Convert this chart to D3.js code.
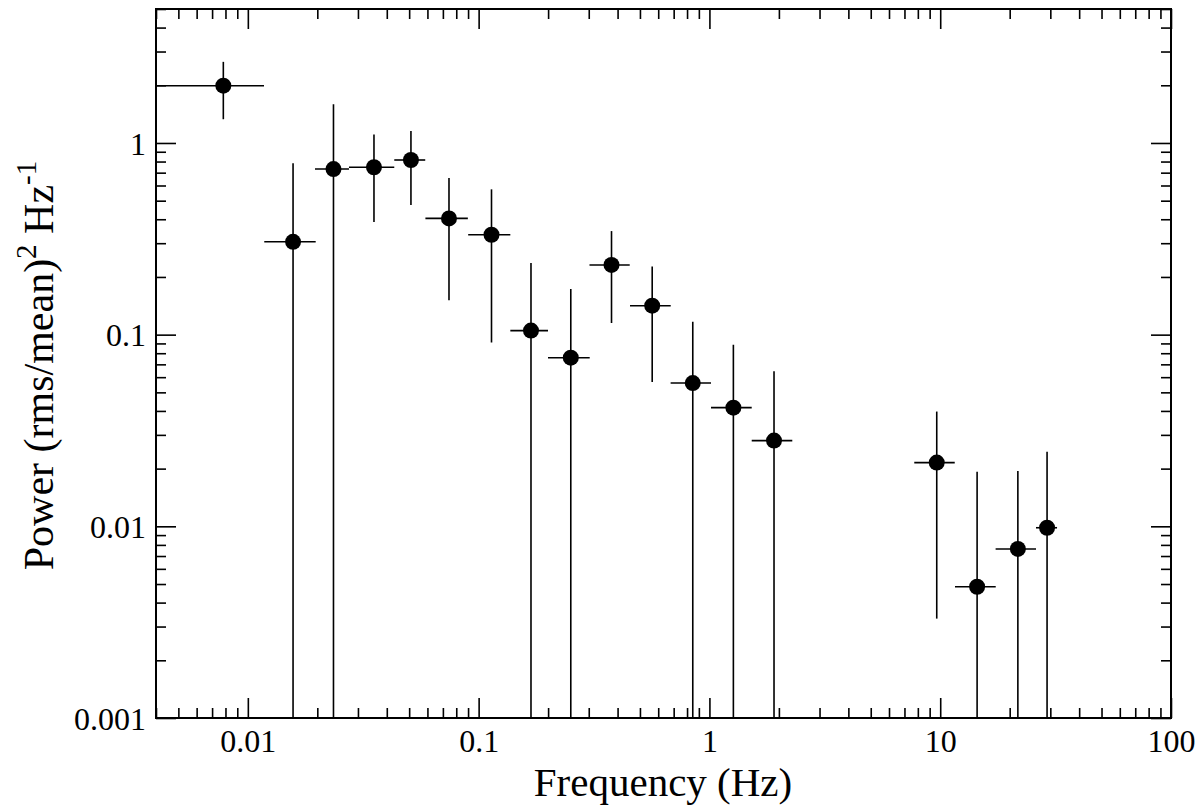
<!DOCTYPE html>
<html>
<head>
<meta charset="utf-8">
<script src="https://cdn.jsdelivr.net/npm/d3@7"></script>
<style>
  html, body { margin: 0; padding: 0; background: #fff; }
  svg { display: block; }
</style>
</head>
<body>
<svg id="chart" width="1200" height="807"></svg>
<script>
// ---- data ----
const freq    = [0.00783, 0.0157, 0.0235, 0.0352, 0.0509, 0.0744, 0.1137, 0.1686, 0.2508, 0.3765, 0.565, 0.847, 1.270, 1.905, 9.66, 14.45, 21.7, 29.04];
const freqLo  = [0.0039, 0.01178, 0.01954, 0.02743, 0.0431, 0.0588, 0.0901, 0.1372, 0.1998, 0.3022, 0.4528, 0.679, 1.016, 1.525, 7.72, 11.59, 17.38, 26.0];
const freqHi  = [0.01175, 0.01968, 0.02743, 0.0431, 0.0587, 0.0898, 0.1372, 0.1998, 0.3029, 0.4515, 0.6797, 1.016, 1.525, 2.286, 11.56, 17.40, 26.01, 32.08];
const power    = [1.99, 0.305, 0.731, 0.747, 0.815, 0.404, 0.332, 0.105, 0.0758, 0.231, 0.1416, 0.0559, 0.0416, 0.0280, 0.0215, 0.00484, 0.00762, 0.00983];
const powerErr = [0.66, 0.478, 0.86, 0.36, 0.34, 0.253, 0.241, 0.1315, 0.097, 0.116, 0.085, 0.061, 0.047, 0.0364, 0.0182, 0.0144, 0.0118, 0.0147];

const xMajor = [0.01, 0.1, 1, 10, 100];
const xMajorLabels = ["0.01", "0.1", "1", "10", "100"];
const yMajor = [0.001, 0.01, 0.1, 1];
const yMajorLabels = ["0.001", "0.01", "0.1", "1"];
const xDomain = [0.004, 100];
const yDomain = [0.001, 5];

// ---- layout ----
const L = 156, R = 1171, T = 9, B = 718;
const svg = d3.select("#chart");
const x = d3.scaleLog().domain(xDomain).range([L, R]);
const y = d3.scaleLog().domain(yDomain).range([B, T]);

function minors(dom) {
  const out = [];
  for (let e = -4; e <= 3; e++) {
    for (let m = 2; m <= 9; m++) {
      const v = m * Math.pow(10, e);
      if (v >= dom[0] * 0.999 && v <= dom[1] * 1.001) out.push(v);
    }
  }
  return out;
}
const xMinor = minors(xDomain);
const yMinor = minors(yDomain);

const font = "'Liberation Serif', 'Times New Roman', serif";

function styleAxis(g) {
  g.select(".domain").remove();
  g.selectAll(".tick line").attr("stroke", "#000").attr("stroke-width", 1.6);
}

// bottom
svg.append("g").attr("transform", `translate(0,${B})`)
  .call(d3.axisBottom(x).tickValues(xMinor).tickSize(-10).tickFormat(""))
  .call(styleAxis);
const gb = svg.append("g").attr("transform", `translate(0,${B})`)
  .call(d3.axisBottom(x).tickValues(xMajor).tickSize(-20)
    .tickFormat((d, i) => xMajorLabels[i]).tickPadding(0))
  .call(styleAxis);
gb.selectAll(".tick text").attr("dy", null).attr("y", 34)
  .attr("font-family", font).attr("font-size", 32).attr("fill", "#000");

// top
svg.append("g").attr("transform", `translate(0,${T})`)
  .call(d3.axisTop(x).tickValues(xMinor).tickSize(-10).tickFormat(""))
  .call(styleAxis);
svg.append("g").attr("transform", `translate(0,${T})`)
  .call(d3.axisTop(x).tickValues(xMajor).tickSize(-20).tickFormat(""))
  .call(styleAxis);

// left
svg.append("g").attr("transform", `translate(${L},0)`)
  .call(d3.axisLeft(y).tickValues(yMinor).tickSize(-10).tickFormat(""))
  .call(styleAxis);
const gl = svg.append("g").attr("transform", `translate(${L},0)`)
  .call(d3.axisLeft(y).tickValues(yMajor).tickSize(-20)
    .tickFormat((d, i) => yMajorLabels[i]).tickPadding(0))
  .call(styleAxis);
gl.selectAll(".tick text").attr("x", -10).attr("dy", "0.35em")
  .attr("font-family", font).attr("font-size", 32).attr("fill", "#000");

// right
svg.append("g").attr("transform", `translate(${R},0)`)
  .call(d3.axisRight(y).tickValues(yMinor).tickSize(-10).tickFormat(""))
  .call(styleAxis);
svg.append("g").attr("transform", `translate(${R},0)`)
  .call(d3.axisRight(y).tickValues(yMajor).tickSize(-20).tickFormat(""))
  .call(styleAxis);

// frame
svg.append("rect").attr("x", L).attr("y", T).attr("width", R - L).attr("height", B - T)
  .attr("fill", "none").attr("stroke", "#000").attr("stroke-width", 2);

// clip
svg.append("defs").append("clipPath").attr("id", "clip")
  .append("rect").attr("x", L).attr("y", T).attr("width", R - L).attr("height", B - T);

const data = freq.map((f, i) => ({ f, lo: freqLo[i], hi: freqHi[i], p: power[i], e: powerErr[i] }));
const plot = svg.append("g").attr("clip-path", "url(#clip)");

// horizontal error bars
plot.selectAll("line.xerr").data(data).enter().append("line")
  .attr("x1", d => x(d.lo)).attr("x2", d => x(d.hi))
  .attr("y1", d => y(d.p)).attr("y2", d => y(d.p))
  .attr("stroke", "#000").attr("stroke-width", 1.6);

// vertical error bars
plot.selectAll("line.yerr").data(data).enter().append("line")
  .attr("x1", d => x(d.f)).attr("x2", d => x(d.f))
  .attr("y1", d => y(d.p + d.e))
  .attr("y2", d => (d.p - d.e) > 0 ? y(d.p - d.e) : B + 5)
  .attr("stroke", "#000").attr("stroke-width", 1.6);

// markers
plot.selectAll("circle").data(data).enter().append("circle")
  .attr("cx", d => x(d.f)).attr("cy", d => y(d.p)).attr("r", 8).attr("fill", "#000");

// axis titles
svg.append("text").attr("x", 663).attr("y", 796)
  .attr("text-anchor", "middle").attr("font-family", font).attr("font-size", 41)
  .attr("fill", "#000").text("Frequency (Hz)");

const yt = svg.append("text")
  .attr("transform", `translate(53,${(T + B) / 2 + 2}) rotate(-90)`)
  .attr("text-anchor", "middle").attr("font-family", font).attr("font-size", 42)
  .attr("fill", "#000");
yt.append("tspan").text("Power (rms/mean)");
yt.append("tspan").attr("font-size", 29).attr("dy", -17).text("2");
yt.append("tspan").attr("dy", 17).text(" Hz");
yt.append("tspan").attr("font-size", 29).attr("dy", -17).text("-1");
</script>
</body>
</html>
